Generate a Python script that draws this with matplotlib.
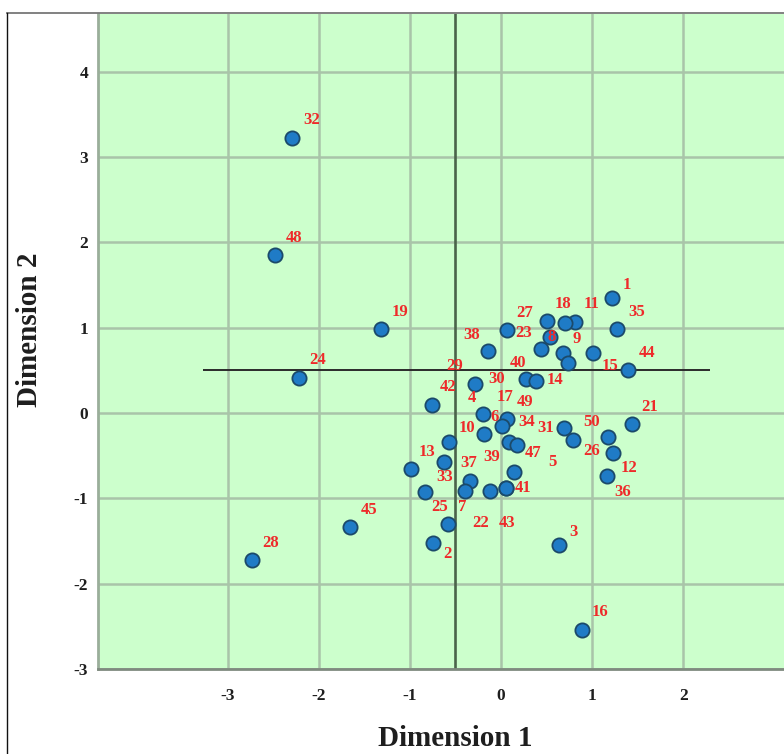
import matplotlib
matplotlib.use("Agg")
import matplotlib.pyplot as plt
from matplotlib.lines import Line2D

plt.rcParams['font.family'] = ['Liberation Serif', 'DejaVu Serif']
plt.rcParams['axes.unicode_minus'] = False

# ---- data: case labels and their coordinates (Dimension 1, Dimension 2) ----
case_labels = ["32", "48", "19", "24", "45", "28", "16", "3",
               "1", "35", "27", "18", "11", "8", "20", "23", "9", "14",
               "15", "44", "38", "29", "30", "40",
               "42", "4", "49", "17", "6", "34", "10", "31", "50", "21",
               "26", "12", "36", "47", "5", "13", "37", "39", "33", "41",
               "7", "25", "22", "43", "2"]
dim1 = [-2.294, -2.481, -1.317, -2.217, -1.658, -2.733, 0.889, 0.637,
        1.218, 1.273, 0.066, 0.505, 0.812, 0.703, 0.538, 0.439, 0.681, 0.735,
        1.010, 1.394, -0.143, -0.285, 0.274, 0.384,
        -0.757, -0.198, 0.066, 0.011, -0.187, 0.088, -0.571, 0.692, 0.790, 1.438,
        1.175, 1.229, 1.164, 0.143, 0.176, -0.988, -0.626, -0.340, -0.834, 0.055,
        -0.395, -0.582, -0.121, 0.055, -0.746]
dim2 = [3.223, 1.852, 0.984, 0.410, -1.336, -1.723, -2.543, -1.547,
        1.348, 0.984, 0.973, 1.078, 1.066, 1.055, 0.891, 0.750, 0.703, 0.586,
        0.703, 0.504, 0.727, 0.340, 0.398, 0.375,
        0.094, -0.012, -0.070, -0.152, -0.246, -0.340, -0.340, -0.176, -0.316, -0.129,
        -0.281, -0.469, -0.738, -0.691, -0.375, -0.656, -0.574, -0.797, -0.926, -0.879,
        -0.914, -1.301, -0.914, -0.879, -1.523]
hidden_labels = {"20"}

x_ticks = [-3, -2, -1, 0, 1, 2]
y_ticks = [-3, -2, -1, 0, 1, 2, 3, 4]
ref_x = -0.5
ref_y = 0.5
ref_y_span = (-3.27, 2.29)

# ---- label placement (offset in pixels from the point: dx, dy upward) ----
label_offsets = [(20, 18), (19, 17), (19, 17), (19, 18), (19, 17), (19, 17), (18, 18), (14, 13),
                 (15, 13), (20, 17), (18, 17), (16, 17), (17, 18), (-13, -14), (0, 0), (-17, 16),
                 (14, 14), (-13, -17), (17, -13), (19, 17), (-16, 16), (-20, 18), (-29, 0), (-18, 18),
                 (16, 18), (-11, 16), (18, 17), (3, 29), (11, 17), (18, 20), (18, 14), (-18, 0),
                 (19, 18), (18, 17), (-16, -14), (16, -15), (16, -16), (19, 19), (35, -17),
                 (16, 17), (25, -1), (22, 24), (20, 15), (17, 0), (-3, -16), (-8, 17), (-9, -32),
                 (1, -35), (14, -11)]

W, H = 784, 754
fig = plt.figure(figsize=(W / 100, H / 100), dpi=100)
fig.patch.set_facecolor('white')

ax_left, ax_right, ax_top, ax_bottom = 98, 812, 14, 669
ax = fig.add_axes([ax_left / W, 1 - ax_bottom / H,
                   (ax_right - ax_left) / W, (ax_bottom - ax_top) / H])
ax.set_facecolor('#ccffcc')
ax.set_xlim(-4.424, 3.414)
ax.set_ylim(-3.0, 4.676)

ax.set_xticks(x_ticks)
ax.set_yticks(y_ticks)
ax.set_xticklabels([str(t) for t in x_ticks])
ax.set_yticklabels([str(t) for t in y_ticks])
ax.grid(True, color='#a9c4a9', linewidth=1.8, zorder=0)
ax.set_axisbelow(True)
ax.tick_params(length=0, labelsize=12.5, colors='#1e1e1e')
ax.tick_params(axis='x', pad=14)
ax.tick_params(axis='y', pad=7)
for lab in ax.get_xticklabels() + ax.get_yticklabels():
    lab.set_fontweight('bold')

for s in ['top', 'right']:
    ax.spines[s].set_visible(False)
ax.spines['left'].set_color('#9aae9a')
ax.spines['left'].set_linewidth(2)
ax.spines['bottom'].set_color('#7f8a7f')
ax.spines['bottom'].set_linewidth(2)

ax.axvline(ref_x, color='#4a644a', linewidth=1.9, zorder=2)
ax.hlines(ref_y, ref_y_span[0], ref_y_span[1], color='#2a2a2a', linewidth=1.4, zorder=2)

ax.scatter(dim1, dim2, s=105, facecolor='#1f7bc6', edgecolor='#1b4a6a',
           linewidth=1.3, zorder=3)

for lab, xv, yv, off in zip(case_labels, dim1, dim2, label_offsets):
    if lab in hidden_labels:
        continue
    ax.annotate(lab, (xv, yv), xytext=off, textcoords='offset pixels',
                ha='center', va='center', color='#ee2a2a', fontsize=12,
                fontweight='bold', zorder=4)

ax.set_xlabel('Dimension 1', fontsize=21, fontweight='bold', color='#1e1e1e')
ax.set_ylabel('Dimension 2', fontsize=21, fontweight='bold', color='#1e1e1e')
ax.xaxis.set_label_coords(0.5, (ax_bottom - 738) / (ax_bottom - ax_top))
ax.xaxis.label.set_va('center')
ax.yaxis.set_label_coords((29 - ax_left) / (ax_right - ax_left),
                          (ax_bottom - 330) / (ax_bottom - ax_top))
ax.yaxis.label.set_va('center')
ax.yaxis.label.set_ha('center')

# outer frame lines
fig.add_artist(Line2D([7 / W, 1], [1 - 13 / H, 1 - 13 / H], color='#777777', linewidth=1.3))
fig.add_artist(Line2D([7 / W, 7 / W], [0, 1 - 13 / H], color='#111111', linewidth=1.0))

fig.savefig('out.png', dpi=100)
